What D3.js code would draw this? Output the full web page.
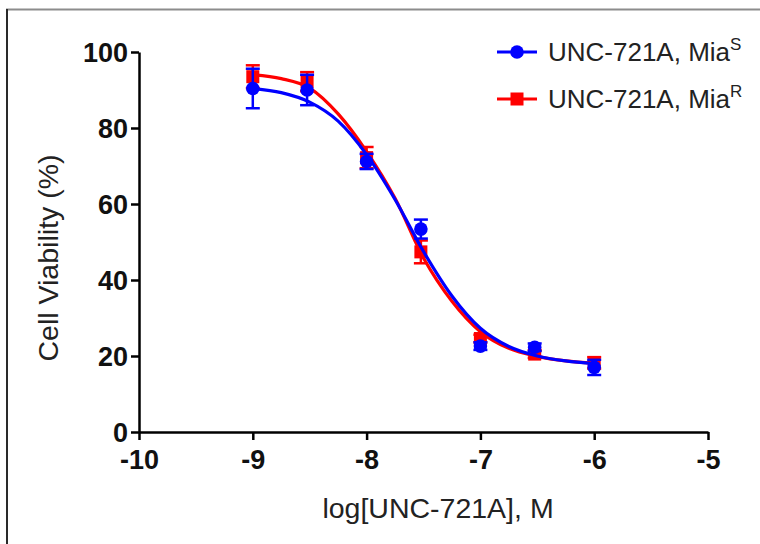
<!DOCTYPE html>
<html>
<head>
<meta charset="utf-8">
<script src="https://cdn.jsdelivr.net/npm/d3@7"></script>
<style>
  body { margin: 0; background: #fff; }
  text { font-family: "Liberation Sans", Arial, sans-serif; }
</style>
</head>
<body>
<div id="chart"></div>
<script>
// Dose values (log M): 1, 3, 10, 30, 100, 300, 1000 nM
const doses = [-9, -8.523, -8, -7.523, -7, -6.523, -6];
const miaS = [90.4, 90.0, 71.2, 53.4, 22.6, 22.3, 17.0];
const miaSErr = [5.2, 4.0, 2.0, 2.5, 1.0, 1.0, 2.0];
const miaR = [93.5, 92.2, 72.2, 47.4, 24.6, 20.5, 18.2];
const miaRErr = [3.0, 2.5, 2.8, 3.0, 1.0, 1.0, 1.5];

// Fitted curves
const fitX = [-9, -8.75, -8.5, -8.25, -8, -7.75, -7.5, -7.25, -7, -6.75, -6.5, -6.25, -6];
const fitS = [90.4, 89.3, 86.8, 81.8, 73.0, 61.2, 47.5, 35.8, 27.3, 22.5, 20.0, 18.7, 18.0];
const fitR = [94.0, 93.0, 90.5, 83.7, 73.8, 61.5, 45.8, 34.4, 26.4, 22.0, 19.9, 18.7, 18.1];

const xTicks = [-10, -9, -8, -7, -6, -5];
const yTicks = [0, 20, 40, 60, 80, 100];

const W = 760, H = 544;
const margin = { top: 52, right: 52, bottom: 112, left: 139 };

const svg = d3.select("#chart").append("svg")
  .attr("width", W)
  .attr("height", H);

// frame edges of the original figure
svg.append("line").attr("x1", 6).attr("x2", W).attr("y1", 9.5).attr("y2", 9.5)
  .attr("stroke", "#8c8c8c").attr("stroke-width", 2);
svg.append("line").attr("x1", 7).attr("x2", 7).attr("y1", 9).attr("y2", H)
  .attr("stroke", "#2a2a2a").attr("stroke-width", 2);

const x = d3.scaleLinear().domain([-10, -5]).range([margin.left, W - margin.right]);
const y = d3.scaleLinear().domain([0, 100]).range([H - margin.bottom, margin.top]);

const fmt = d => String(d); // plain hyphen minus, no decimals

// axes
const xAxis = svg.append("g")
  .attr("transform", `translate(0,${y(0)})`)
  .call(d3.axisBottom(x).tickValues(xTicks).tickFormat(fmt)
    .tickSize(8).tickPadding(10).tickSizeOuter(0));
const yAxis = svg.append("g")
  .attr("transform", `translate(${x(-10)},0)`)
  .call(d3.axisLeft(y).tickValues(yTicks).tickFormat(fmt)
    .tickSize(8).tickPadding(3).tickSizeOuter(0));

[xAxis, yAxis].forEach(g => {
  g.select(".domain").attr("stroke", "#000").attr("stroke-width", 2.5);
  g.selectAll(".tick line").attr("stroke", "#000").attr("stroke-width", 2.5);
  g.selectAll(".tick text")
    .attr("fill", "#111")
    .style("font-family", "'Liberation Sans', Arial, sans-serif")
    .style("font-size", "27px")
    .style("font-weight", "bold");
});
yAxis.selectAll(".tick text").attr("dy", "0.34em");

// axis titles
svg.append("text")
  .attr("x", 438)
  .attr("y", 518)
  .attr("text-anchor", "middle")
  .attr("fill", "#222")
  .style("font-size", "28.5px")
  .text("log[UNC-721A], M");

svg.append("text")
  .attr("transform", `translate(58,258) rotate(-90)`)
  .attr("text-anchor", "middle")
  .attr("fill", "#222")
  .style("font-size", "28.5px")
  .text("Cell Viability (%)");

const line = d3.line()
  .x(d => x(d[0]))
  .y(d => y(d[1]))
  .curve(d3.curveMonotoneX);

const series = [
  { name: "R", color: "#ff0000", vals: miaR, err: miaRErr, fit: fitR, shape: "square" },
  { name: "S", color: "#0000ff", vals: miaS, err: miaSErr, fit: fitS, shape: "circle" }
];

const capW = 7;

series.forEach(s => {
  const g = svg.append("g");

  g.append("path")
    .datum(fitX.map((v, i) => [v, s.fit[i]]))
    .attr("d", line)
    .attr("fill", "none")
    .attr("stroke", s.color)
    .attr("stroke-width", 3.2);

  const pts = doses.map((d, i) => ({ x: d, v: s.vals[i], e: s.err[i] }));

  // error bars
  const eb = g.selectAll(".eb").data(pts).enter().append("g")
    .attr("stroke", s.color).attr("stroke-width", 2.5);
  eb.append("line")
    .attr("x1", d => x(d.x)).attr("x2", d => x(d.x))
    .attr("y1", d => y(d.v + d.e)).attr("y2", d => y(d.v - d.e));
  eb.append("line")
    .attr("x1", d => x(d.x) - capW).attr("x2", d => x(d.x) + capW)
    .attr("y1", d => y(d.v + d.e)).attr("y2", d => y(d.v + d.e));
  eb.append("line")
    .attr("x1", d => x(d.x) - capW).attr("x2", d => x(d.x) + capW)
    .attr("y1", d => y(d.v - d.e)).attr("y2", d => y(d.v - d.e));

  // markers
  if (s.shape === "circle") {
    g.selectAll(".pt").data(pts).enter().append("circle")
      .attr("cx", d => x(d.x)).attr("cy", d => y(d.v))
      .attr("r", 6.8).attr("fill", s.color);
  } else {
    g.selectAll(".pt").data(pts).enter().append("rect")
      .attr("x", d => x(d.x) - 6.5).attr("y", d => y(d.v) - 6.5)
      .attr("width", 13).attr("height", 13).attr("fill", s.color);
  }
});

// legend
const legendItems = [
  { color: "#0000ff", shape: "circle", label: "UNC-721A, Mia", sup: "S", y: 52 },
  { color: "#ff0000", shape: "square", label: "UNC-721A, Mia", sup: "R", y: 99 }
];
legendItems.forEach(l => {
  const g = svg.append("g");
  g.append("line").attr("x1", 497).attr("x2", 537).attr("y1", l.y).attr("y2", l.y)
    .attr("stroke", l.color).attr("stroke-width", 3.2);
  if (l.shape === "circle") {
    g.append("circle").attr("cx", 517).attr("cy", l.y).attr("r", 6.8).attr("fill", l.color);
  } else {
    g.append("rect").attr("x", 510.5).attr("y", l.y - 6.5).attr("width", 13).attr("height", 13)
      .attr("fill", l.color);
  }
  const t = g.append("text").attr("x", 548).attr("y", l.y + 9)
    .style("font-size", "26px").attr("fill", "#222");
  t.append("tspan").text(l.label);
  t.append("tspan").attr("dy", -11).style("font-size", "17px").text(l.sup);
});
</script>
</body>
</html>
